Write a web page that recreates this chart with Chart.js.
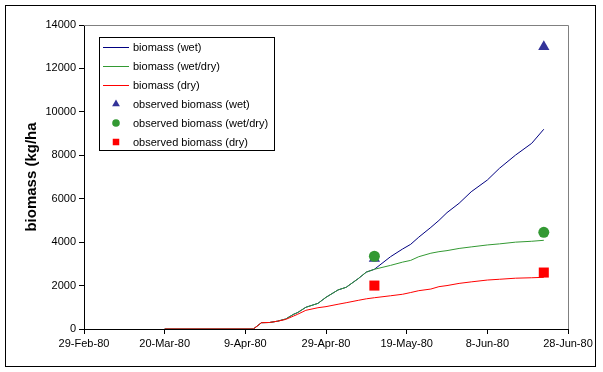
<!DOCTYPE html>
<html>
<head>
<meta charset="utf-8">
<script src="https://cdn.jsdelivr.net/npm/chart.js@4/dist/chart.umd.min.js"></script>
<style>
  html, body { margin: 0; padding: 0; background: #fff; }
  canvas { display: block; }
</style>
</head>
<body>
<canvas id="c" width="603" height="372"></canvas>
<script>
// ---- data ----
const simDates = ['1980-03-20','1980-04-11','1980-04-13','1980-04-15','1980-04-17','1980-04-19','1980-04-21','1980-04-22','1980-04-24','1980-04-27','1980-04-29','1980-05-02','1980-05-04','1980-05-07','1980-05-09','1980-05-11','1980-05-15','1980-05-18','1980-05-20','1980-05-22','1980-05-25','1980-05-27','1980-05-29','1980-06-01','1980-06-04','1980-06-08','1980-06-11','1980-06-15','1980-06-19','1980-06-22'];
const biomassWet    = [0,0,290,300,360,460,680,760,1000,1180,1460,1800,1920,2320,2620,2750,3330,3685,3900,4230,4680,5000,5360,5790,6320,6860,7400,8010,8550,9200];
const biomassWetDry = [0,0,290,300,360,460,680,760,1000,1180,1460,1800,1920,2320,2620,2750,2930,3080,3160,3330,3490,3560,3610,3710,3780,3870,3920,4000,4040,4085];
const biomassDry    = [0,0,290,300,360,440,600,680,860,980,1030,1140,1210,1320,1390,1440,1530,1600,1680,1765,1840,1950,2000,2100,2170,2255,2290,2340,2360,2380];

const obsDates = ['1980-05-11','1980-06-22'];
const obsWet    = [3250, 13000];
const obsWetDry = [3350, 4450];
const obsDry    = [2000, 2600];

const xTickLabels = ['29-Feb-80','20-Mar-80','9-Apr-80','29-Apr-80','19-May-80','8-Jun-80','28-Jun-80'];
const yTicks = [0,2000,4000,6000,8000,10000,12000,14000];

const seriesNames = ['biomass (wet)','biomass (wet/dry)','biomass (dry)','observed biomass (wet)','observed biomass (wet/dry)','observed biomass (dry)'];

// ---- helpers ----
const BASE = Date.UTC(1980, 1, 29);
function dayOf(s) { const p = s.split('-').map(Number); return (Date.UTC(p[0], p[1]-1, p[2]) - BASE) / 86400000; }
function pts(dates, vals) { return dates.map((d, i) => ({x: dayOf(d), y: vals[i]})); }

const FONT = "'Liberation Sans', Arial, sans-serif";
const C_WET = '#000080', C_WD = '#339933', C_DRY = '#ff0000', C_TRI = '#333399';
const seriesColors = [C_WET, C_WD, C_DRY, C_TRI, C_WD, C_DRY];
const seriesStyles = ['line', 'line', 'line', 'triangle', 'circle', 'rect'];

const lineDs = (label, data, color, order) => ({
  type: 'line', label, data, borderColor: color, backgroundColor: color,
  borderWidth: 1, pointRadius: 0, tension: 0, order
});
const obsDs = (label, data, color, style, r, order) => ({
  type: 'scatter', label, data, showLine: false, pointStyle: style, pointRadius: r,
  pointHoverRadius: r, backgroundColor: color, borderColor: color, borderWidth: 0, order
});

const datasets = [
  lineDs(seriesNames[0], pts(simDates, biomassWet), C_WET, 5),
  lineDs(seriesNames[1], pts(simDates, biomassWetDry), C_WD, 4),
  lineDs(seriesNames[2], pts(simDates, biomassDry), C_DRY, 3),
  obsDs(seriesNames[3], pts(obsDates, obsWet), C_TRI, 'triangle', 6.5, 2),
  obsDs(seriesNames[4], pts(obsDates, obsWetDry), C_WD, 'circle', 5.5, 1),
  obsDs(seriesNames[5], pts(obsDates, obsDry), C_DRY, 'rect', 7.1, 0)
];

const framePlugin = {
  id: 'frame',
  beforeDatasetsDraw(chart) {
    const {ctx, chartArea: a} = chart;
    ctx.save();
    ctx.strokeStyle = '#808080';
    ctx.lineWidth = 1;
    ctx.beginPath();
    ctx.moveTo(a.left, Math.round(a.top) + 0.5);
    ctx.lineTo(Math.round(a.right) + 0.5, Math.round(a.top) + 0.5);
    ctx.lineTo(Math.round(a.right) + 0.5, a.bottom);
    ctx.stroke();
    ctx.restore();
  },
  afterDraw(chart) {
    const ctx = chart.ctx;
    ctx.save();
    // outer border
    ctx.strokeStyle = '#000';
    ctx.lineWidth = 1;
    ctx.strokeRect(5.5, 5.5, 590, 361);
    // legend box
    const lx = 99.5, ly = 37.5, lw = 175, lh = 113;
    ctx.fillStyle = '#fff';
    ctx.fillRect(lx, ly, lw, lh);
    ctx.strokeRect(lx, ly, lw, lh);
    ctx.restore();
    chart.data.datasets.forEach((ds, i) => {
      const y = 47 + i * 19;
      const col = seriesColors[i];
      const style = seriesStyles[i];
      ctx.save();
      if (style === 'line') {
        ctx.strokeStyle = col;
        ctx.lineWidth = 1;
        ctx.beginPath();
        ctx.moveTo(103, Math.round(y) + 0.5);
        ctx.lineTo(129, Math.round(y) + 0.5);
        ctx.stroke();
      } else {
        ctx.fillStyle = col;
        ctx.strokeStyle = col;
        ctx.lineWidth = 0;
        Chart.helpers.drawPoint(ctx, {
          pointStyle: style, radius: style === 'rect' ? 4.6 : (style === 'triangle' ? 4.5 : 3.8),
          rotation: 0, borderWidth: 0
        }, 116, y);
      }
      ctx.restore();
      ctx.save();
      ctx.font = '11px ' + FONT;
      ctx.textBaseline = 'middle';
      ctx.textAlign = 'left';
      ctx.fillStyle = '#000';
      ctx.fillText(ds.label, 133, y + 0.5);
      ctx.restore();
    });
  }
};

new Chart(document.getElementById('c'), {
  data: { datasets },
  options: {
    responsive: false,
    animation: false,
    events: [],
    layout: { padding: { top: 25, right: 35, left: 0, bottom: 0 } },
    plugins: { legend: { display: false }, tooltip: { enabled: false } },
    scales: {
      x: {
        type: 'linear', min: 0, max: 120,
        afterBuildTicks(scale) { scale.ticks = xTickLabels.map((_, i) => ({value: i * 20})); },
        afterFit(scale) { scale.height = 43; },
        ticks: {
          color: '#000', font: { family: FONT, size: 11 }, padding: 3, maxRotation: 0, autoSkip: false,
          callback: (v) => xTickLabels[Math.round(v / 20)]
        },
        grid: { drawOnChartArea: false, drawTicks: true, tickLength: 5, color: '#000' },
        border: { display: true, color: '#000' }
      },
      y: {
        type: 'linear', min: 0, max: 14000,
        afterBuildTicks(scale) { scale.ticks = yTicks.map(v => ({value: v})); },
        afterFit(scale) { scale.width = 84; },
        ticks: { color: '#000', font: { family: FONT, size: 11 }, padding: 3, callback: (v) => String(v) },
        grid: { drawOnChartArea: false, drawTicks: true, tickLength: 5, color: '#000' },
        border: { display: true, color: '#000' },
        title: { display: true, text: 'biomass (kg/ha', color: '#000', font: { family: FONT, size: 15, weight: 'bold' }, padding: { top: 23, bottom: 0 } }
      }
    }
  },
  plugins: [framePlugin]
});
</script>
</body>
</html>
